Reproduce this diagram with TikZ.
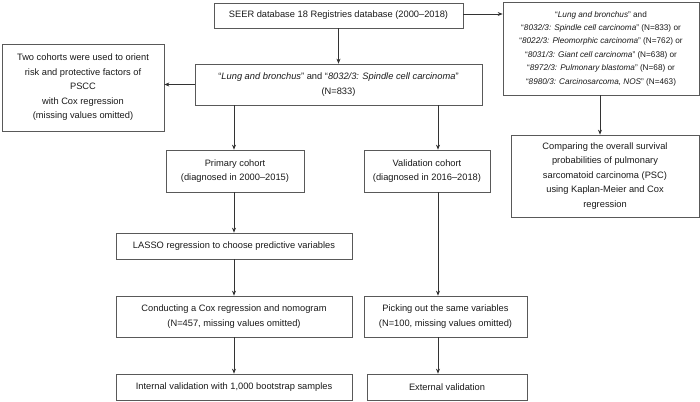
\documentclass[tikz,border=0pt]{standalone}
\usepackage{fontspec}
\setmainfont{Liberation Sans}
\usetikzlibrary{arrows.meta}

\tikzset{
    box/.style={draw=black!65, line width=0.7pt, inner sep=0pt, align=center,
        text=black!90, font=\fontsize{9.3}{14.5}\selectfont},
    link/.style={draw=black!80, line width=0.7pt, -{Stealth[length=5pt,width=4pt]}}
}

\begin{document}
\begin{tikzpicture}[x=1pt, y=-1pt]
    \useasboundingbox (0,0) rectangle (700,401);

    % Top row
    \node[box, minimum width=249pt, minimum height=25pt] (seer) at (338.5,15.5)
        {SEER database 18 Registries database (2000–2018)};
    \node[box, minimum width=196pt, minimum height=93pt,
        font=\fontsize{8.2}{13.4}\selectfont] (psc) at (601,48.5)
        {“\textit{Lung and bronchus}” and\\
         “\textit{8032/3: Spindle cell carcinoma}” (N=833) or\\
         “\textit{8022/3: Pleomorphic carcinoma}” (N=762) or\\
         “\textit{8031/3: Giant cell carcinoma}” (N=638) or\\
         “\textit{8972/3: Pulmonary blastoma}” (N=68) or\\
         “\textit{8980/3: Carcinosarcoma, NOS}” (N=463)};
    \node[box, minimum width=162pt, minimum height=87pt] (orient) at (83,87.5)
        {Two cohorts were used to orient\\ risk and protective factors of\\ PSCC\\
         with Cox regression\\ (missing values omitted)};
    \node[box, minimum width=287pt, minimum height=41pt] (spindle) at (338.5,84.5)
        {“\textit{Lung and bronchus}” and “\textit{8032/3: Spindle cell carcinoma}”\\ (N=833)};
    \node[box, minimum width=188pt, minimum height=82pt] (compare) at (605,176)
        {Comparing the overall survival\\ probabilities of pulmonary\\
         sarcomatoid carcinoma (PSC)\\ using Kaplan-Meier and Cox\\ regression};

    % Two cohorts
    \node[box, minimum width=138pt, minimum height=42pt] (primary) at (235,171)
        {Primary cohort\\ (diagnosed in 2000–2015)};
    \node[box, minimum width=126pt, minimum height=42pt] (valid) at (427,171)
        {Validation cohort\\ (diagnosed in 2016–2018)};
    \coordinate (vx) at (438,0); % x of the right column arrows

    % Left column
    \node[box, minimum width=236pt, minimum height=26pt] (lasso) at (234,246)
        {LASSO regression to choose predictive variables};
    \node[box, minimum width=236pt, minimum height=41pt] (cox) at (234,316.5)
        {Conducting a Cox regression and nomogram\\ (N=457, missing values omitted)};
    \node[box, minimum width=236pt, minimum height=26pt] (internal) at (234,387)
        {Internal validation with 1,000 bootstrap samples};

    % Right column
    \node[box, minimum width=163pt, minimum height=41pt] (picking) at (445.5,316.5)
        {Picking out the same variables\\ (N=100, missing values omitted)};
    \node[box, minimum width=160pt, minimum height=26pt] (external) at (447,387)
        {External validation};

    % Connectors
    \draw[link] (seer.east |- 0,14) -- (psc.west |- 0,14);
    \draw[link] (seer.south) -- (spindle.north);
    \draw[link] (spindle.west) -- (spindle.west -| orient.east);
    \draw[link] (psc.south -| 600,0) -- (compare.north -| 600,0);
    \draw[link] (spindle.south -| 234,0) -- (primary.north -| 234,0);
    \draw[link] (vx |- spindle.south) -- (vx |- valid.north);
    \draw[link] (primary.south -| 234,0) -- (lasso.north -| 234,0);
    \draw[link] (lasso.south) -- (cox.north);
    \draw[link] (cox.south) -- (internal.north);
    \draw[link] (vx |- valid.south) -- (vx |- picking.north);
    \draw[link] (vx |- picking.south) -- (vx |- external.north);
\end{tikzpicture}
\end{document}
